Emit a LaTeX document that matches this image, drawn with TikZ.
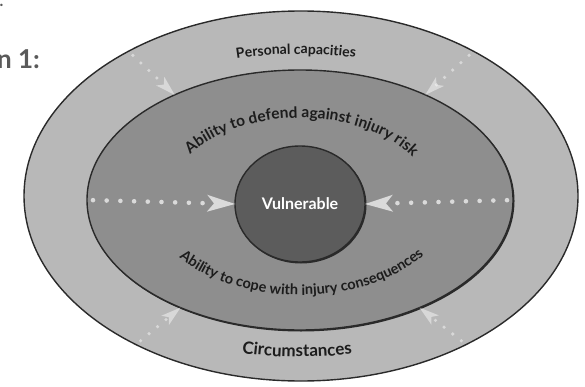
\documentclass[tikz,border=0pt]{standalone}
\usepackage{fontspec}
\setmainfont{Lato}
\usetikzlibrary{shapes.geometric,decorations.text,arrows.meta,calc}
\definecolor{outercol}{HTML}{B8B8B8}
\definecolor{middlecol}{HTML}{8E8E8E}
\definecolor{innercol}{HTML}{5C5C5C}
\definecolor{edgecol}{HTML}{2A2A2A}
\definecolor{dotcol}{HTML}{DADADA}
\definecolor{txtcol}{HTML}{1C1C1C}
\definecolor{numcol}{HTML}{5A5A5A}
\tikzset{
  ring/.style={ellipse, draw=edgecol, line width=1.4pt, inner sep=0pt, outer sep=0pt},
  shade ring/.style={ellipse, fill=edgecol, inner sep=0pt, outer sep=0pt},
  dotline/.style={draw=dotcol, line width=4.6pt, line cap=round, dash pattern=on 0pt off 13.7pt,
    -{Stealth[length=28pt,width=17pt,inset=7pt,line width=0pt]}, shorten <=6pt},
  fadeline/.style={draw=white, opacity=0.45, line width=3.6pt, line cap=round, dash pattern=on 0pt off 11pt,
    -{Stealth[length=20pt,width=12pt,inset=5pt,line width=0pt]}, shorten <=6pt},
  arctext/.style={decorate, decoration={text along path, text align=center, text color=txtcol}}
}
\begin{document}
\begin{tikzpicture}[x=1pt,y=1pt]
\useasboundingbox (0,0) rectangle (585,386);
\clip (0,0) rectangle (585,386);
% label remnants at the left
\node[anchor=base east, font=\fontsize{26}{26}\selectfont\bfseries, text=numcol, inner sep=0pt] (dimlbl) at (40,317) {n 1:};
\node[anchor=base east, font=\fontsize{16}{16}\selectfont\bfseries, text=numcol, inner sep=0pt] (dotlbl) at (3.5,379) {.};
% rings
\node[ring, fill=outercol, minimum width=554pt, minimum height=370pt] (outer) at (301,190) {};
\node[shade ring, minimum width=427pt, minimum height=261pt] (middleshadow) at (301,185) {};
\node[ring, fill=middlecol, minimum width=426pt, minimum height=260pt] (middle) at (300,186) {};
\node[shade ring, minimum width=131pt, minimum height=117pt] (innershadow) at (301,181) {};
\node[ring, fill=innercol, minimum width=130pt, minimum height=116pt,
      font=\fontsize{16}{16}\selectfont\bfseries, text=white] (inner) at (300,182) {Vulnerable};
% horizontal dotted arrows
\draw[dotline] (middle.west) -- (inner.west);
\draw[dotline] (middle.east) -- (inner.east);
% faded diagonal arrows
\draw[fadeline] (outer.140) -- (middle.140);
\draw[fadeline] (outer.40) -- (middle.40);
\draw[fadeline] (outer.222) -- (middle.222);
\draw[fadeline] (outer.318) -- (middle.318);
% curved texts
\path[arctext, decoration={text={|\fontsize{14}{14}\selectfont\bfseries|Personal capacities}}]
  ($(300,186)+(121:249pt and 146pt)$) arc[start angle=121, end angle=61, x radius=249pt, y radius=146pt];
\path[arctext, decoration={text={|\fontsize{15.5}{15.5}\selectfont\bfseries|Ability to defend against injury risk}}]
  ($(300,186)+(160:132pt and 82pt)$) arc[start angle=160, end angle=17.4, x radius=132pt, y radius=82pt];
\path[arctext, decoration={text={|\fontsize{14.5}{14.5}\selectfont\bfseries|Ability to cope with injury consequences}}]
  ($(300,186)+(215:152pt and 95pt)$) arc[start angle=215, end angle=327, x radius=152pt, y radius=95pt];
\path[arctext, decoration={text={|\fontsize{17}{17}\selectfont\bfseries|Circumstances}}]
  ($(300,186)+(239.3:259pt and 157pt)$) arc[start angle=239.3, end angle=299.3, x radius=259pt, y radius=157pt];
\end{tikzpicture}
\end{document}
